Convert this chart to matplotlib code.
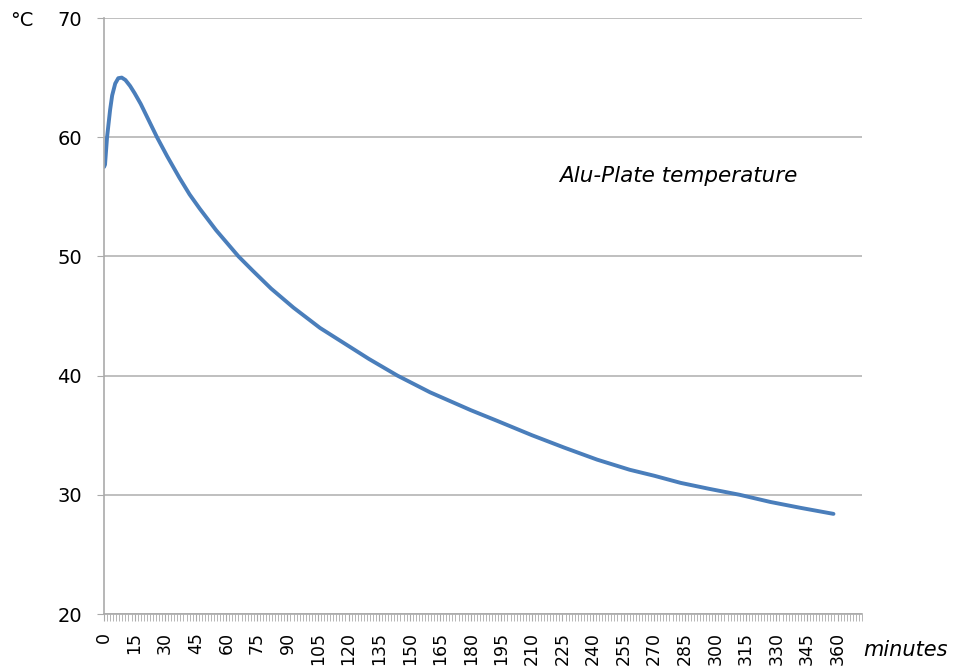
import numpy as np
import matplotlib.pyplot as plt
from matplotlib.ticker import MultipleLocator

plt.rcParams['font.family'] = ['DejaVu Sans']

# readings off the plate sensor
minutes = [0, 0.5, 1.5, 3, 4, 5.5, 7, 8.7, 10.5, 12.8, 15, 18, 22, 26, 31, 37,
           42, 47, 55, 66, 73, 82, 93, 106, 118, 130, 144, 160, 180, 193, 210,
           226, 242, 258, 270, 283, 297, 312, 327, 342, 358]
temp = [57.5, 57.7, 60.0, 62.3, 63.5, 64.5, 64.95, 65.0, 64.8, 64.3, 63.7,
        62.8, 61.4, 60.0, 58.4, 56.6, 55.2, 54.0, 52.2, 50.0, 48.8, 47.3, 45.7,
        44.0, 42.7, 41.4, 40.0, 38.6, 37.1, 36.2, 35.0, 33.95, 32.95, 32.1, 31.6,
        31.0, 30.5, 30.0, 29.4, 28.9, 28.4]
xticks = list(range(0, 361, 15))
yticks = [20, 30, 40, 50, 60, 70]

fig = plt.figure(figsize=(9.56, 6.69), dpi=100)
ax = fig.add_axes([104/956, 1-614/669, (862-104)/956, (614-18)/669])

ax.plot(minutes, temp, color='#4a7ebb', lw=2.8, solid_capstyle='round',
        solid_joinstyle='round')

ax.set_xlim(0, 372)
ax.set_ylim(20, 70)
ax.set_yticks(yticks)
ax.set_xticks(xticks)
ax.set_xticklabels([str(t) for t in xticks], rotation=90, fontsize=12.5)
ax.xaxis.set_minor_locator(MultipleLocator(1.5))
ax.tick_params(axis='x', which='both', length=5, color='#aaaaaa', pad=8)
ax.tick_params(axis='y', length=5, color='#aaaaaa', labelsize=14, pad=11)
ax.grid(axis='y', color='#b4b4b4', lw=1.2)
ax.set_axisbelow(True)
for s in ['top', 'right']:
    ax.spines[s].set_visible(False)
for s in ['left', 'bottom']:
    ax.spines[s].set_color('#aaaaaa')
    ax.spines[s].set_linewidth(1.2)

fig.text(22/956, 1-20/669, '°C', fontsize=14, ha='center', va='center')
fig.text(906/956, 1-650/669, 'minutes', fontsize=15, style='italic', ha='center', va='center')
fig.text(678/956, 1-176/669, 'Alu-Plate temperature', fontsize=15.5, style='italic',
         ha='center', va='center')

fig.savefig('out.png', dpi=100)
